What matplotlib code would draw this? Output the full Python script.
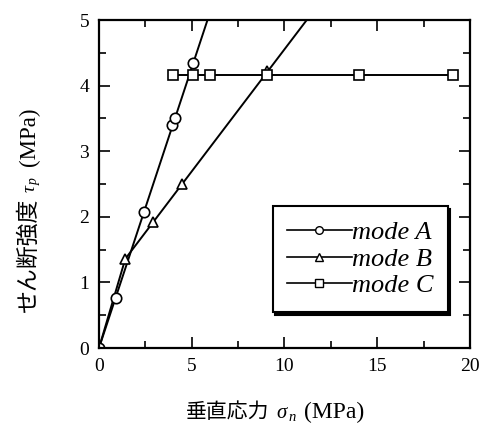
import numpy as np
import matplotlib.pyplot as plt
from matplotlib.ticker import MultipleLocator
from matplotlib.transforms import IdentityTransform
from matplotlib.lines import Line2D

plt.rcParams['font.family'] = ['Liberation Serif', 'Noto Sans CJK JP']
plt.rcParams['mathtext.fontset'] = 'custom'
plt.rcParams['mathtext.it'] = 'Liberation Serif:italic'
plt.rcParams['mathtext.rm'] = 'Liberation Serif'

# normal stress (MPa) vs shear strength (MPa)
sig_a = [0.0, 0.92, 2.44, 3.95, 4.1, 5.05]
tau_a = [0.0, 0.76, 2.07, 3.40, 3.50, 4.34]
sig_b = [1.42, 2.93, 4.49, 9.05]
tau_b = [1.36, 1.92, 2.50, 4.22]
sig_c = [4.0, 5.08, 6.0, 9.07, 14.03, 19.07]
tau_c = [4.16, 4.16, 4.16, 4.16, 4.16, 4.16]

# trend lines run past the last test up to the top of the frame
line_a_x = [0.0, 5.85]
line_a_y = [0.0, 5.0]
line_b_x = [0.0, 1.42, 11.2]
line_b_y = [0.0, 1.36, 5.0]

fig = plt.figure(figsize=(4.84, 4.26), dpi=100)
ax = fig.add_axes([0.2045, 0.183, 0.7665, 0.770])

mk = dict(markersize=7.5, markerfacecolor='white', markeredgecolor='black',
          markeredgewidth=1.2, color='black', linewidth=1.4)

ax.plot(line_a_x, line_a_y, color='black', linewidth=1.4)
ax.plot(line_b_x, line_b_y, color='black', linewidth=1.4)
ax.plot(sig_c, tau_c, color='black', linewidth=1.4)
ax.plot(sig_a, tau_a, linestyle='none', marker='o', **mk)
ax.plot(sig_b, tau_b, linestyle='none', marker='^', **mk)
ax.plot(sig_c, tau_c, linestyle='none', marker='s', **mk)

ax.set_xlim(0, 20)
ax.set_ylim(0, 5)
ax.xaxis.set_major_locator(MultipleLocator(5))
ax.xaxis.set_minor_locator(MultipleLocator(2.5))
ax.yaxis.set_major_locator(MultipleLocator(1))
ax.yaxis.set_minor_locator(MultipleLocator(0.5))
ax.tick_params(which='both', direction='in', top=True, right=True,
               labelsize=14, width=1.2, pad=7)
ax.tick_params(which='major', length=8)
ax.tick_params(which='minor', length=5)
for s in ax.spines.values():
    s.set_linewidth(1.6)

# legend with solid-line handles and a black drop shadow
handles = [Line2D([], [], marker=m, markersize=5.5, markerfacecolor='white',
                  markeredgecolor='black', markeredgewidth=1.0,
                  color='black', linewidth=1.2)
           for m in ['o', '^', 's']]
leg = ax.legend(handles, ['mode A', 'mode B', 'mode C'],
                loc='lower right', bbox_to_anchor=(0.94, 0.11),
                prop={'family': 'Liberation Serif', 'style': 'italic', 'size': 19},
                handlelength=2.45, handletextpad=0.0, labelspacing=0.12,
                borderpad=0.55, borderaxespad=0, fancybox=False, framealpha=1,
                edgecolor='black', shadow={'color': 'black', 'alpha': 1})
leg.get_frame().set_linewidth(1.5)


def chain_label(pieces, x0, y0, vertical=False):
    """Lay text pieces end to end (in pixels) so Japanese and math
    parts can use different fonts."""
    fig.canvas.draw()
    r = fig.canvas.get_renderer()
    pos = x0 if not vertical else y0
    for txt, kw, gap in pieces:
        if vertical:
            t = fig.text(x0, pos, txt, transform=IdentityTransform(),
                         rotation=90, rotation_mode='anchor',
                         ha='left', va='baseline', **kw)
            pos += t.get_window_extent(r).height + gap
        else:
            t = fig.text(pos, y0, txt, transform=IdentityTransform(),
                         ha='left', va='baseline', **kw)
            pos += t.get_window_extent(r).width + gap


chain_label([('垂直応力', {'family': 'Noto Sans CJK JP', 'size': 15}, 7),
             ('$\\sigma_{\\,n}$', {'size': 15}, 7),
             ('(MPa)', {'family': 'Liberation Serif', 'size': 17}, 0)],
            186, 426 - 418)
chain_label([('せん断強度', {'family': 'Noto Sans CJK JP', 'size': 16.5}, 5),
             ('$\\tau_{\\,p}$', {'size': 14}, 10),
             ('(MPa)', {'family': 'Liberation Serif', 'size': 16.5}, 0)],
            35, 426 - 312, vertical=True)

fig.savefig('out.png', dpi=100)
